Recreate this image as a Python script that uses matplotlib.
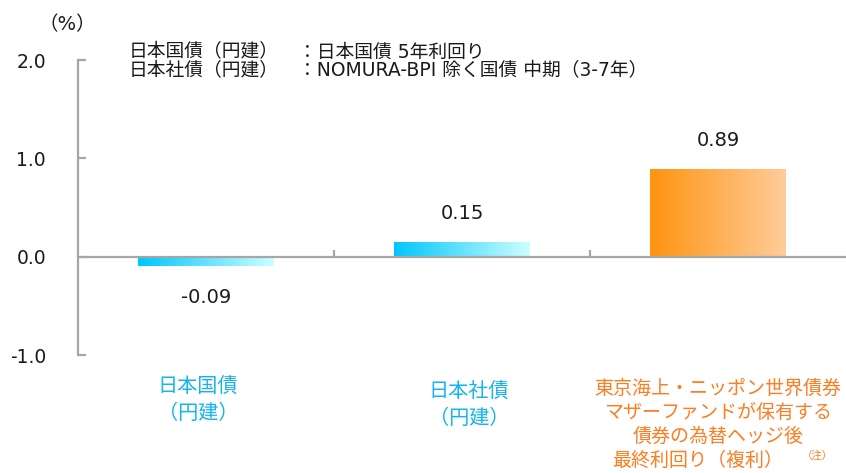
import numpy as np
import matplotlib
matplotlib.use("Agg")
import matplotlib.pyplot as plt
from matplotlib.colors import LinearSegmentedColormap

plt.rcParams['font.family'] = ['DejaVu Sans', 'Noto Sans CJK JP']

# data
categories = [["日本国債", "（円建）"],
              ["日本社債", "（円建）"],
              ["東京海上・ニッポン世界債券", "マザーファンドが保有する", "債券の為替ヘッジ後"]]
last_line = "最終利回り（複利）"
note_mark = "（注）"
values = [-0.09, 0.15, 0.89]
value_labels = ["-0.09", "0.15", "0.89"]
yticks = [-1.0, 0.0, 1.0, 2.0]
ytick_labels = ["-1.0", "0.0", "1.0", "2.0"]
note_keys = ["日本国債（円建）", "日本社債（円建）"]
note_vals = ["：日本国債 5年利回り", "：NOMURA-BPI 除く国債 中期（3-7年）"]

blue_grad = LinearSegmentedColormap.from_list("b", ["#00C6FF", "#CCFEFF"])
orange_grad = LinearSegmentedColormap.from_list("o", ["#FF9410", "#FECC9A"])
bar_cmaps = [blue_grad, blue_grad, orange_grad]
label_colors = ["#14B4F0", "#14B4F0", "#FF7C20"]
# label layout (px): centre x, first line y, line step, font size
label_x = [198, 469, 718]
label_y = [387, 392, 388]
label_step = [26, 26, 24]
label_size = [14.5, 14.5, 13.7]

fig = plt.figure(figsize=(8.46, 4.73), dpi=100)
ax = fig.add_axes([78 / 846, 118 / 473, 768 / 846, 295 / 473])

ax.set_xlim(0, 3)
ax.set_ylim(-1, 2)

width = 0.53
grad = np.linspace(0, 1, 256).reshape(1, -1)
for i, v in enumerate(values):
    xc = i + 0.5
    y0, y1 = min(0, v), max(0, v)
    ax.imshow(grad, cmap=bar_cmaps[i], extent=[xc - width / 2, xc + width / 2, y0, y1],
              aspect='auto', interpolation='bilinear', zorder=2)
    if v >= 0:
        ax.text(xc, v + 0.29, value_labels[i], ha='center', va='center', fontsize=14, color='#1a1a1a')
    else:
        ax.text(xc, v - 0.33, value_labels[i], ha='center', va='center', fontsize=14, color='#1a1a1a')

# spines
for s in ['top', 'right']:
    ax.spines[s].set_visible(False)
ax.spines['left'].set_color('#A6A6A6')
ax.spines['left'].set_linewidth(1.6)
ax.spines['bottom'].set_position(('data', 0))
ax.spines['bottom'].set_color('#A6A6A6')
ax.spines['bottom'].set_linewidth(1.6)
ax.spines['bottom'].set_zorder(3)

ax.set_yticks(yticks)
ax.set_yticklabels(ytick_labels, fontsize=13.5, color='#1a1a1a')
ax.tick_params(axis='y', direction='in', length=6, width=1.6, color='#A6A6A6', pad=23)
ax.set_xticks([1, 2])
ax.set_xticklabels([])
ax.tick_params(axis='x', direction='in', length=5, width=1.6, color='#A6A6A6')

# category labels
for i, lines in enumerate(categories):
    for j, line in enumerate(lines):
        fig.text(label_x[i] / 846, 1 - (label_y[i] + label_step[i] * j) / 473, line,
                 ha='center', va='center', fontsize=label_size[i], color=label_colors[i])
fig.text(698 / 846, 1 - 460 / 473, last_line, ha='center', va='center',
         fontsize=label_size[2], color=label_colors[2])
fig.text(817 / 846, 1 - 456 / 473, note_mark, ha='center', va='center',
         fontsize=7.5, color=label_colors[2])

# notes and unit
fig.text(38 / 846, 1 - 25 / 473, "（%）", ha='left', va='center', fontsize=14, color='#1a1a1a')
for k in range(2):
    y = 1 - (52 + 19 * k) / 473
    fig.text(129 / 846, y, note_keys[k], ha='left', va='center', fontsize=13.5, color='#1a1a1a')
    fig.text(298 / 846, y, note_vals[k], ha='left', va='center', fontsize=13.5, color='#1a1a1a')

fig.savefig("out.png", dpi=100)
